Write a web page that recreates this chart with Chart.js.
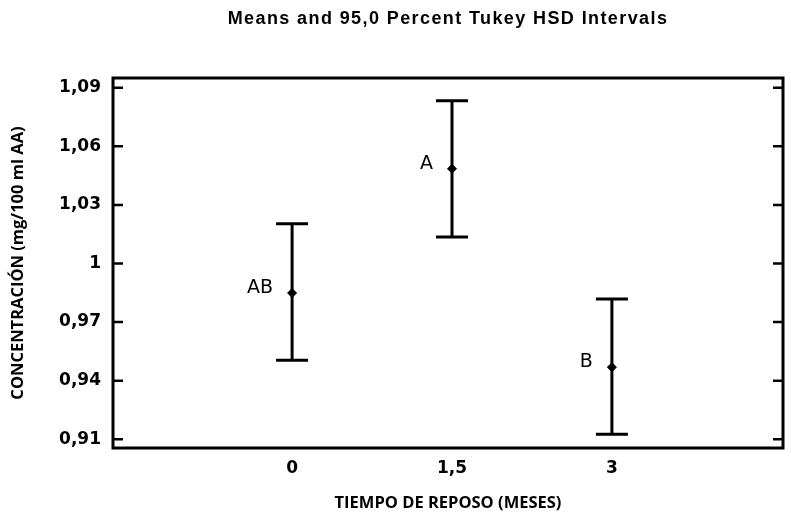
<!DOCTYPE html>
<html lang="es">
<head>
    <meta charset="UTF-8">
    <script src="https://cdn.jsdelivr.net/npm/chart.js"></script>
    <title>Means and 95,0 Percent Tukey HSD Intervals</title>
    <style>
        body { margin: 0; background: #fff; }
        .grafico { width: 791px; height: 517px; }
    </style>
</head>
<body>

<div class="grafico">
    <canvas id="grafico_tukey"></canvas>
</div>

<script>

    // datos
    const titulo = 'Means and 95,0 Percent Tukey HSD Intervals';
    const categorias = ['0', '1,5', '3'];        // tiempo de reposo (meses)
    const medias = [0.9849, 1.0485, 0.9469];     // concentracion media
    const limiteSuperior = [1.0203, 1.0833, 0.9818];
    const limiteInferior = [0.9505, 1.0136, 0.9126];
    const grupos = ['AB', 'A', 'B'];             // letras de Tukey
    const ticksY = [0.91, 0.94, 0.97, 1.00, 1.03, 1.06, 1.09];
    const etiquetasY = ['0,91', '0,94', '0,97', '1', '1,03', '1,06', '1,09'];

    const canvasTukey = document.getElementById('grafico_tukey');

    // titulo centrado sobre el area, marco, ticks hacia dentro, barras de error y letras
    const pluginIntervalos = {
        id: 'intervalos',
        afterDatasetsDraw(chart) {
            const ctx = chart.ctx;
            const area = chart.chartArea;
            const x = chart.scales.x;
            const y = chart.scales.y;

            ctx.save();
            ctx.fillStyle = '#000';
            ctx.font = 'bold 18px "Liberation Sans"';
            ctx.textAlign = 'center';
            ctx.textBaseline = 'middle';
            ctx.letterSpacing = '1.4px';
            ctx.fillText(titulo, (area.left + area.right) / 2, 19);
            ctx.letterSpacing = '0px';

            ctx.strokeStyle = '#000';
            ctx.lineWidth = 3;

            medias.forEach((m, i) => {
                const px = x.getPixelForValue(i);
                const yTop = y.getPixelForValue(limiteSuperior[i]);
                const yBot = y.getPixelForValue(limiteInferior[i]);
                ctx.beginPath();
                ctx.moveTo(px, yTop);
                ctx.lineTo(px, yBot);
                ctx.moveTo(px - 16, yTop);
                ctx.lineTo(px + 16, yTop);
                ctx.moveTo(px - 16, yBot);
                ctx.lineTo(px + 16, yBot);
                ctx.stroke();

                ctx.font = '19px "DejaVu Sans"';
                ctx.textAlign = 'right';
                ctx.fillText(grupos[i], px - 19, y.getPixelForValue(m) - 5);
            });

            // ticks interiores a izquierda y derecha
            ctx.lineWidth = 2.5;
            ticksY.forEach(v => {
                const py = y.getPixelForValue(v);
                ctx.beginPath();
                ctx.moveTo(area.left, py);
                ctx.lineTo(area.left + 10, py);
                ctx.moveTo(area.right, py);
                ctx.lineTo(area.right - 10, py);
                ctx.stroke();
            });

            ctx.lineWidth = 3;
            ctx.strokeRect(area.left, area.top, area.right - area.left, area.bottom - area.top);
            ctx.restore();
        }
    };

    new Chart(canvasTukey, {
        type: 'scatter',
        data: {
            datasets: [{
                label: 'Media',
                data: medias.map((m, i) => ({ x: i, y: m })),
                pointStyle: 'rectRot',
                pointRadius: 4.5,
                backgroundColor: '#000',
                borderColor: '#000'
            }]
        },
        options: {
            responsive: true,
            maintainAspectRatio: false,
            animation: false,
            layout: { padding: { top: 78, right: 8, left: 8, bottom: 0 } },
            plugins: {
                legend: { display: false },
                tooltip: { enabled: false },
                title: { display: false }
            },
            scales: {
                x: {
                    type: 'linear',
                    min: -1.12,
                    max: 3.07,
                    afterBuildTicks: scale => {
                        scale.ticks = categorias.map((c, i) => ({ value: i }));
                    },
                    afterFit: scale => { scale.height = 69; },
                    ticks: {
                        color: '#000',
                        padding: 10,
                        font: { family: 'DejaVu Sans', weight: 'bold', size: 17 },
                        callback: v => categorias[v]
                    },
                    grid: { display: false, drawTicks: false },
                    border: { display: false },
                    title: {
                        display: true,
                        text: 'TIEMPO DE REPOSO (MESES)',
                        color: '#000',
                        font: { family: 'Open Sans', weight: 'bold', size: 16.5 },
                        padding: { top: 8 }
                    }
                },
                y: {
                    min: 0.9055,
                    max: 1.095,
                    afterBuildTicks: scale => {
                        scale.ticks = ticksY.map(v => ({ value: v }));
                    },
                    afterFit: scale => { scale.width = 105; },
                    ticks: {
                        color: '#000',
                        padding: 12,
                        font: { family: 'DejaVu Sans', weight: 'bold', size: 17 },
                        callback: v => etiquetasY[ticksY.findIndex(t => Math.abs(t - v) < 1e-6)]
                    },
                    grid: { display: false, drawTicks: false },
                    border: { display: false },
                    title: {
                        display: true,
                        text: 'CONCENTRACIÓN (mg/100 ml AA)',
                        color: '#000',
                        font: { family: 'Open Sans', weight: 'bold', size: 16.5 },
                        padding: { top: 0, bottom: 0 }
                    }
                }
            }
        },
        plugins: [pluginIntervalos]
    });

</script>
</body>
</html>
